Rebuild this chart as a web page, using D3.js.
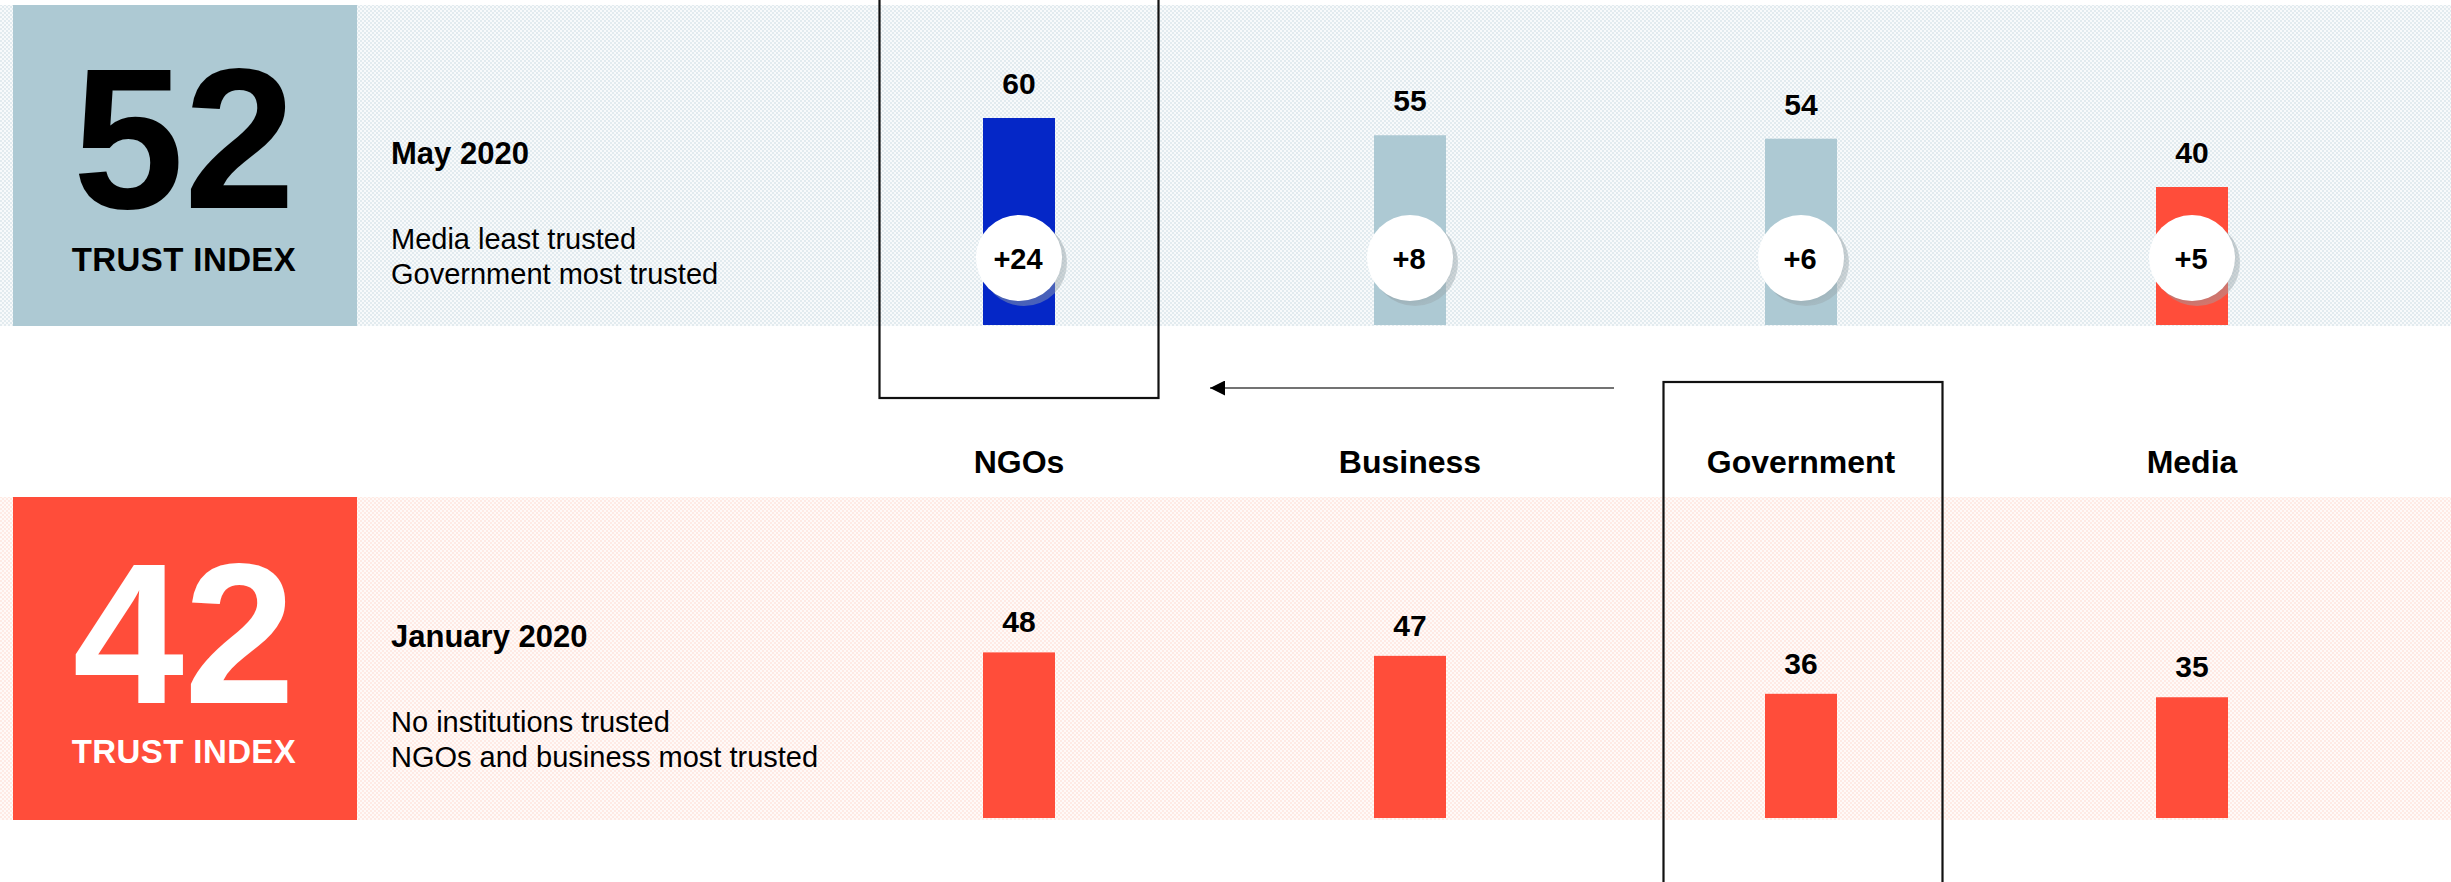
<!DOCTYPE html>
<html>
<head>
<meta charset="utf-8">
<script src="https://cdn.jsdelivr.net/npm/d3@7"></script>
<style>
  html, body { margin: 0; padding: 0; background: #ffffff; }
  svg { display: block; }
  text { font-family: "Liberation Sans", Arial, Helvetica, sans-serif; }
</style>
</head>
<body>
<svg id="chart" width="2451" height="882"></svg>
<script>
// Trust in institutions, January vs May 2020
const categories = ["NGOs", "Business", "Government", "Media"];
const may2020 = [60, 55, 54, 40];
const jan2020 = [48, 47, 36, 35];
const changeSinceLast = [24, 8, 6, 5];

const trustIndexMay = 52;
const trustIndexJan = 42;

const periodMay = "May 2020";
const notesMay = ["Media least trusted", "Government most trusted"];
const periodJan = "January 2020";
const notesJan = ["No institutions trusted", "NGOs and business most trusted"];
const indexLabel = "TRUST INDEX";

// palette
const BLUE = "#0527c7";
const STEEL = "#adc9d3";
const RED = "#ff4d3a";
const topBarColor = { NGOs: BLUE, Media: RED };

const W = 2451, H = 882;
const svg = d3.select("#chart");

// dithered band fills
const defs = svg.append("defs");
function checker(id, a, b) {
  const p = defs.append("pattern").attr("id", id)
    .attr("patternUnits", "userSpaceOnUse").attr("width", 4).attr("height", 4);
  p.append("rect").attr("width", 4).attr("height", 4).attr("fill", b);
  p.append("rect").attr("width", 2).attr("height", 2).attr("fill", a);
  p.append("rect").attr("x", 2).attr("y", 2).attr("width", 2).attr("height", 2).attr("fill", a);
}
checker("hatchBlue", "#e2ebef", "#f8fafb");
checker("hatchRed", "#ffeae4", "#fffaf8");

// shadow under the change bubbles
const shadow = defs.append("radialGradient").attr("id", "bubbleShadow")
  .attr("cx", "40%").attr("cy", "40%").attr("r", "60%");
shadow.append("stop").attr("offset", "70%").attr("stop-color", "#7d8c92").attr("stop-opacity", 0.55);
shadow.append("stop").attr("offset", "100%").attr("stop-color", "#9aa7ac").attr("stop-opacity", 0.45);

// layout
const bandMay = { y0: 5, y1: 326, base: 325 };
const bandJan = { y0: 497, y1: 820, base: 818 };
const tile = { x0: 13, x1: 357 };

const x = d3.scalePoint().domain(categories).range([1019, 2192]);
const h = d3.scaleLinear().domain([0, 60]).range([0, 207]);
const barW = 72;

// background bands
svg.append("rect").attr("x", 0).attr("y", bandMay.y0).attr("width", W).attr("height", bandMay.y1 - bandMay.y0)
  .attr("fill", "url(#hatchBlue)");
svg.append("rect").attr("x", 0).attr("y", bandJan.y0).attr("width", W).attr("height", bandJan.y1 - bandJan.y0)
  .attr("fill", "url(#hatchRed)");

// trust index tiles
function indexTile(band, fill, textFill, value, baseline, labelBaseline) {
  svg.append("rect").attr("x", tile.x0).attr("y", band.y0)
    .attr("width", tile.x1 - tile.x0).attr("height", band.y1 - band.y0).attr("fill", fill);
  const cx = (tile.x0 + tile.x1) / 2 - 1;
  svg.append("text").attr("x", cx).attr("y", baseline).attr("text-anchor", "middle")
    .attr("font-size", 200).attr("font-weight", 700).attr("fill", textFill).text(value);
  svg.append("text").attr("x", cx).attr("y", labelBaseline).attr("text-anchor", "middle")
    .attr("font-size", 33).attr("font-weight", 700).attr("letter-spacing", 0.4)
    .attr("fill", textFill).text(indexLabel);
}
indexTile(bandMay, STEEL, "#000000", trustIndexMay, 208, 271);
indexTile(bandJan, RED, "#ffffff", trustIndexJan, 703, 763);

// period headings and notes
function periodText(title, notes, titleBase) {
  svg.append("text").attr("x", 391).attr("y", titleBase)
    .attr("font-size", 31).attr("font-weight", 700).attr("fill", "#000").text(title);
  svg.append("g").selectAll("text").data(notes).join("text")
    .attr("x", 391).attr("y", (d, i) => titleBase + 85 + i * 35)
    .attr("font-size", 29).attr("fill", "#000").text(d => d);
}
periodText(periodMay, notesMay, 164);
periodText(periodJan, notesJan, 647);

// May 2020 bars
const mayData = categories.map((c, i) => ({ c, v: may2020[i], d: changeSinceLast[i] }));
const gMay = svg.append("g");
gMay.selectAll("rect").data(mayData).join("rect")
  .attr("x", d => x(d.c) - barW / 2).attr("y", d => bandMay.base - h(d.v))
  .attr("width", barW).attr("height", d => h(d.v))
  .attr("fill", d => topBarColor[d.c] || STEEL);
gMay.selectAll("text.val").data(mayData).join("text").attr("class", "val")
  .attr("x", d => x(d.c)).attr("y", d => bandMay.base - h(d.v) - 24)
  .attr("text-anchor", "middle").attr("font-size", 30).attr("font-weight", 700)
  .attr("fill", "#000").text(d => d.v);

// change bubbles
const bubbleY = 258, bubbleR = 43;
gMay.selectAll("circle.shadow").data(mayData).join("circle").attr("class", "shadow")
  .attr("cx", d => x(d.c) + 5).attr("cy", bubbleY + 5).attr("r", bubbleR)
  .attr("fill", "url(#bubbleShadow)");
gMay.selectAll("circle.bubble").data(mayData).join("circle").attr("class", "bubble")
  .attr("cx", d => x(d.c)).attr("cy", bubbleY).attr("r", bubbleR).attr("fill", "#ffffff");
gMay.selectAll("text.chg").data(mayData).join("text").attr("class", "chg")
  .attr("x", d => x(d.c) - 1).attr("y", bubbleY + 11)
  .attr("text-anchor", "middle").attr("font-size", 29).attr("font-weight", 700)
  .attr("fill", "#000").text(d => d3.format("+d")(d.d));

// category labels
svg.append("g").selectAll("text").data(categories).join("text")
  .attr("x", d => x(d)).attr("y", 473).attr("text-anchor", "middle")
  .attr("font-size", 32).attr("font-weight", 700).attr("fill", "#000").text(d => d);

// January 2020 bars
const janData = categories.map((c, i) => ({ c, v: jan2020[i] }));
const gJan = svg.append("g");
gJan.selectAll("rect").data(janData).join("rect")
  .attr("x", d => x(d.c) - barW / 2).attr("y", d => bandJan.base - h(d.v))
  .attr("width", barW).attr("height", d => h(d.v)).attr("fill", RED);
gJan.selectAll("text").data(janData).join("text")
  .attr("x", d => x(d.c)).attr("y", d => bandJan.base - h(d.v) - 20)
  .attr("text-anchor", "middle").attr("font-size", 30).attr("font-weight", 700)
  .attr("fill", "#000").text(d => d.v);

// highlight frames: most trusted in May (NGOs) and biggest mover (Government)
const frameHalf = 139.5;
svg.append("rect").attr("x", x("NGOs") - frameHalf).attr("y", -4)
  .attr("width", frameHalf * 2).attr("height", 402)
  .attr("fill", "none").attr("stroke", "#111").attr("stroke-width", 2.2);
svg.append("rect").attr("x", x("Government") - frameHalf + 2).attr("y", 382)
  .attr("width", frameHalf * 2).attr("height", 520)
  .attr("fill", "none").attr("stroke", "#111").attr("stroke-width", 2.2);

// arrow from Government frame toward NGOs frame
defs.append("marker").attr("id", "arrowHead").attr("viewBox", "0 0 10 10")
  .attr("refX", 10).attr("refY", 5).attr("markerWidth", 16).attr("markerHeight", 15)
  .attr("markerUnits", "userSpaceOnUse").attr("orient", "auto")
  .append("path").attr("d", "M0,0 L10,5 L0,10 Z").attr("fill", "#000");
svg.append("line").attr("x1", 1614).attr("y1", 388).attr("x2", 1210).attr("y2", 388)
  .attr("stroke", "#444").attr("stroke-width", 1.6).attr("marker-end", "url(#arrowHead)");
</script>
</body>
</html>
